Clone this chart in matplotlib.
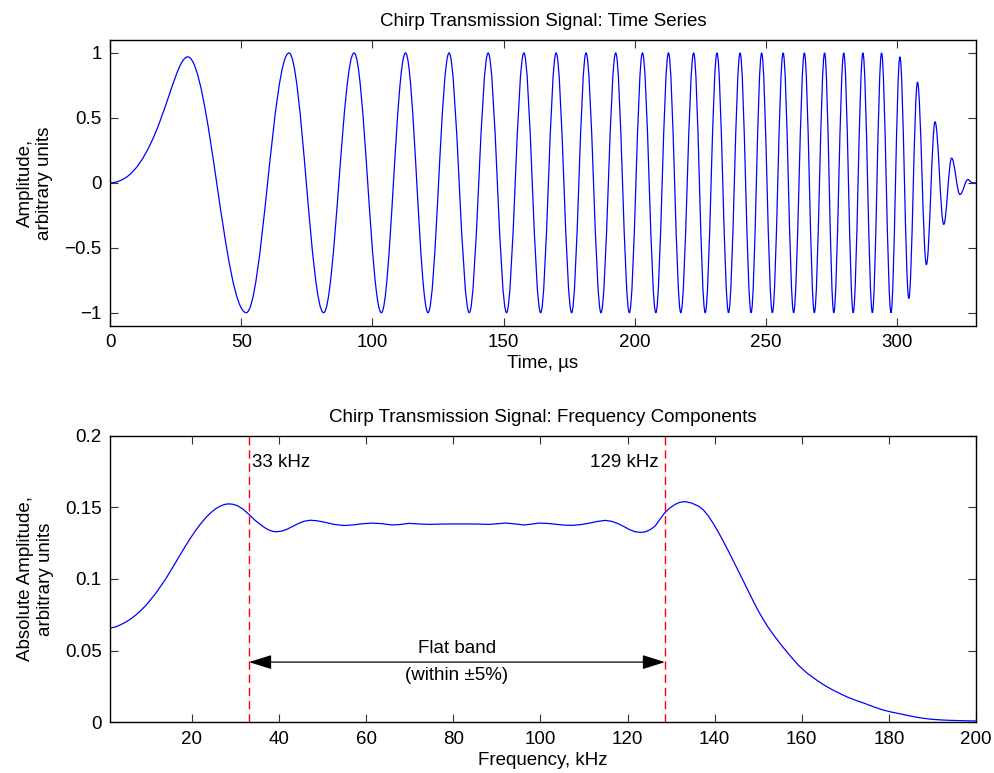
import numpy as np
import matplotlib
matplotlib.use("Agg")
import matplotlib.pyplot as plt
from matplotlib.path import Path
from matplotlib.patches import PathPatch

plt.rcParams['font.family'] = ['Liberation Sans', 'DejaVu Sans']
plt.rcParams['axes.unicode_minus'] = True

# --- time series: extrema of the chirp (time in us, amplitude)
t_ext = [0, 29.6, 51.9, 68.2, 81.4, 93.0, 103.4, 112.6, 121.2, 129.2, 136.9,
         144.1, 151.1, 157.7, 164.1, 170.0, 175.9, 181.4, 187.1, 192.7, 197.9,
         202.9, 208.0, 212.8, 217.5, 222.4, 226.8, 231.3, 235.7, 240.1, 244.3,
         248.3, 252.4, 256.5, 260.5, 264.6, 268.4, 272.3, 275.8, 279.6, 283.2,
         286.9, 290.5, 294.0, 297.6, 301.0, 304.4, 307.7, 311.1, 314.4, 317.7,
         320.7, 323.9, 326.9, 328.6, 330.0]
a_ext = [0, 0.97, -1, 1, -1, 1, -1, 1, -1, 1, -1,
         1, -1, 1, -1, 1, -1, 1, -1, 1, -1,
         1, -1, 1, -1, 1, -1, 1, -1, 1, -1,
         1, -1, 1, -1, 1, -1, 1, -1, 1, -1,
         1, -1, 1, -1, 0.97, -0.89, 0.775, -0.63, 0.47, -0.32,
         0.19, -0.09, 0.025, 0, 0]

# --- frequency spectrum (kHz, abs amplitude)
f_khz = [1.2, 2.5, 3.6, 4.8, 5.9, 7.1, 8.2, 9.4, 10.5, 11.7, 12.8, 14.0, 15.1,
         16.3, 17.4, 18.6, 19.7, 20.9, 22.0, 23.2, 24.3, 25.5, 26.6, 27.5,
         28.3, 29.3, 30.4, 31.7, 33.1, 34.4, 35.7, 36.7, 37.7, 38.6, 39.4,
         40.6, 41.9, 43.2, 44.5, 45.8, 47.2, 48.7, 50.3, 52.6, 54.9, 57.0,
         59.0, 61.4, 63.6, 65.9, 67.8, 69.8, 72.0, 74.4, 77.0, 80.0, 83.0,
         86.0, 88.1, 90.0, 91.9, 94.0, 96.1, 97.8, 99.6, 101.5, 103.5, 105.4,
         107.2, 109.2, 111.0, 113.0, 114.9, 116.4, 117.9, 119.2, 120.5, 121.7,
         122.9, 123.9, 124.8, 125.6, 126.4, 127.4, 128.5, 129.7, 130.9, 132.0,
         133.2, 134.7, 136.3, 137.4, 138.6, 139.7, 140.9, 142.0, 143.2, 144.3,
         145.5, 146.6, 147.8, 148.9, 150.0, 151.2, 152.3, 153.9, 155.4, 157.3,
         159.2, 161.1, 163.1, 165.0, 166.9, 168.8, 170.7, 172.6, 174.5, 176.4,
         178.3, 180.2, 182.2, 184.1, 186.0, 187.9, 189.8, 191.7, 193.6, 196.8,
         200.0]
amp = [0.0657, 0.0666, 0.0680, 0.0699, 0.0720, 0.0748, 0.0778, 0.0815, 0.0855,
       0.0900, 0.0948, 0.1001, 0.1056, 0.1117, 0.1174, 0.1234, 0.1287, 0.1340,
       0.1385, 0.1428, 0.1462, 0.1491, 0.1510, 0.1520, 0.1524, 0.1522, 0.1512,
       0.1488, 0.1450, 0.1412, 0.1380, 0.1358, 0.1341, 0.1332, 0.1329, 0.1334,
       0.1348, 0.1368, 0.1388, 0.1403, 0.1410, 0.1406, 0.1397, 0.1381, 0.1373,
       0.1377, 0.1385, 0.1390, 0.1386, 0.1377, 0.1380, 0.1388, 0.1384, 0.1381,
       0.1383, 0.1384, 0.1384, 0.1383, 0.1381, 0.1385, 0.1390, 0.1385, 0.1377,
       0.1382, 0.1390, 0.1388, 0.1382, 0.1376, 0.1374, 0.1379, 0.1388, 0.1401,
       0.1409, 0.1402, 0.1385, 0.1365, 0.1344, 0.1330, 0.1325, 0.1328, 0.1338,
       0.1352, 0.1372, 0.1415, 0.1460, 0.1495, 0.1520, 0.1535, 0.1540, 0.1530,
       0.1508, 0.1482, 0.1438, 0.1386, 0.1324, 0.1262, 0.1192, 0.1125, 0.1053,
       0.0985, 0.0910, 0.0843, 0.0778, 0.0716, 0.0662, 0.0594, 0.0535, 0.0465,
       0.0399, 0.0346, 0.0301, 0.0262, 0.0229, 0.0200, 0.0173, 0.0151, 0.0131,
       0.0109, 0.0089, 0.0074, 0.0061, 0.0048, 0.0037, 0.0028, 0.0021, 0.0017,
       0.0014, 0.0011, 0.0009]

band_lo = 33.1
band_hi = 128.6

fs = 13.5

fig = plt.figure(figsize=(9.94, 7.73), dpi=100)
ax1 = fig.add_axes([0.1107, 0.5787, 0.8712, 0.3696])
ax2 = fig.add_axes([0.1107, 0.0656, 0.8712, 0.3708])

# chirp drawn as cubic bezier half-cycles between extrema (horizontal tangents)
verts = [(t_ext[0], a_ext[0])]
codes = [Path.MOVETO]
for i in range(len(t_ext) - 1):
    t0, t1 = t_ext[i], t_ext[i + 1]
    y0, y1 = a_ext[i], a_ext[i + 1]
    d = t1 - t0
    ka, kb = 0.363, 0.363
    if i == 0:
        ka, kb = 0.6, 0.2
    verts += [(t0 + ka * d, y0), (t1 - kb * d, y1), (t1, y1)]
    codes += [Path.CURVE4] * 3
ax1.add_patch(PathPatch(Path(verts, codes), fill=False, edgecolor='#0000ff', lw=0.9))

ax1.set_xlim(0, 330)
ax1.set_ylim(-1.1, 1.1)
ax1.set_xticks([0, 50, 100, 150, 200, 250, 300])
ax1.set_yticks([-1, -0.5, 0, 0.5, 1])
ax1.set_yticklabels(['\u22121', '\u22120.5', '0', '0.5', '1'])
ax1.set_title('Chirp Transmission Signal: Time Series', fontsize=fs, pad=10)
ax1.set_xlabel('Time, \u00b5s', fontsize=fs, labelpad=3)
ax1.set_ylabel('Amplitude,\narbitrary units', fontsize=fs, labelpad=8)

ax2.plot(f_khz, amp, color='#0000ff', lw=0.9)
ax2.axvline(band_lo, color='#ff0000', lw=1.0, dashes=(6, 3.5))
ax2.axvline(band_hi, color='#ff0000', lw=1.0, dashes=(6, 3.5))
ax2.text(band_lo + 0.6, 0.181, '33 kHz', fontsize=fs, ha='left', va='center')
ax2.text(band_hi - 1.5, 0.181, '129 kHz', fontsize=fs, ha='right', va='center')
ax2.annotate('', xy=(band_lo, 0.042), xytext=(band_hi, 0.042),
             arrowprops=dict(arrowstyle='<|-|>,head_length=0.7,head_width=0.22',
                             color='k', lw=0.9, mutation_scale=20,
                             shrinkA=0, shrinkB=0))
mid = (band_lo + band_hi) / 2
ax2.text(mid, 0.0455, 'Flat band', fontsize=fs, ha='center', va='bottom')
ax2.text(mid, 0.0385, '(within \u00b15%)', fontsize=fs, ha='center', va='top')

ax2.set_xlim(1.2, 200)
ax2.set_ylim(0, 0.2)
ax2.set_xticks([20, 40, 60, 80, 100, 120, 140, 160, 180, 200])
ax2.set_yticks([0, 0.05, 0.1, 0.15, 0.2])
ax2.set_yticklabels(['0', '0.05', '0.1', '0.15', '0.2'])
ax2.set_title('Chirp Transmission Signal: Frequency Components', fontsize=fs, pad=10)
ax2.set_xlabel('Frequency, kHz', fontsize=fs, labelpad=3)
ax2.set_ylabel('Absolute Amplitude,\narbitrary units', fontsize=fs, labelpad=8)

for ax in (ax1, ax2):
    ax.tick_params(direction='in', length=6, width=0.8, top=True, right=True,
                   labelsize=fs, pad=6, color='#333333')
    for s in ax.spines.values():
        s.set_linewidth(1.0)

fig.savefig('out.png', dpi=100)
